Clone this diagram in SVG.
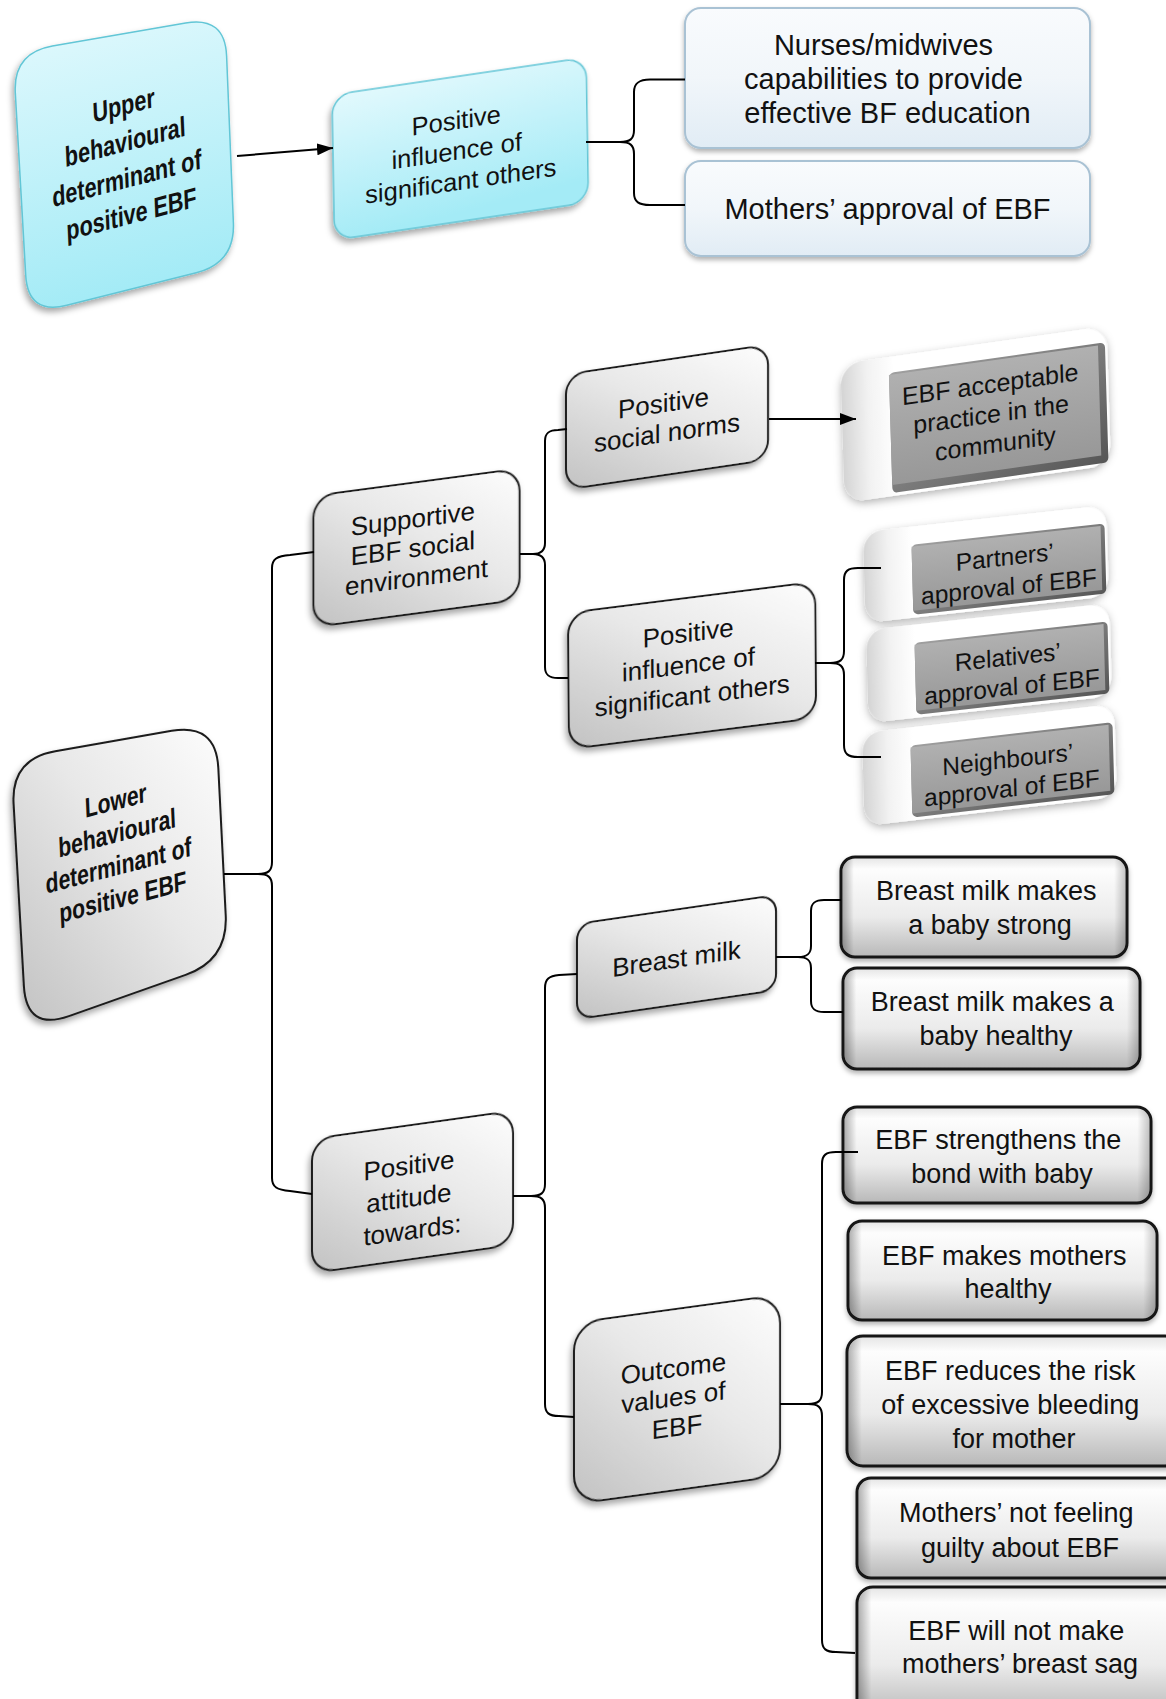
<svg xmlns="http://www.w3.org/2000/svg" width="1166" height="1699" viewBox="0 0 1166 1699">
  <defs>
    <style>
      .t { font-family: "Liberation Sans", Arial, sans-serif; fill: #111; text-anchor: middle; }
      .tb { font-family: "Liberation Sans", Arial, sans-serif; font-weight: bold; fill: #111; text-anchor: middle; }
      .cyan { fill: url(#gCyan); stroke: #62c6d6; stroke-width: 1.5; }
      .gray { fill: url(#gGray); stroke: #1c1c1c; stroke-width: 2; }
      .pale { fill: url(#gPale); stroke: #a9c2d4; stroke-width: 2; }
      .box { fill: url(#gBox); stroke: #151515; stroke-width: 3; }
      .boxside { fill: url(#gBoxSide); stroke: none; }
      .slab { fill: url(#gSlab); }
      .bevel { fill: url(#gBevel); }
      .face { fill: url(#gFace); }
      .wire { fill: none; stroke: #000; stroke-width: 2; }
    </style>
    <linearGradient id="gCyan" x1="0" y1="0" x2="0.2" y2="1">
      <stop offset="0" stop-color="#e2f9fd"/>
      <stop offset="1" stop-color="#a4ebf6"/>
    </linearGradient>
    <linearGradient id="gGray" x1="1" y1="0" x2="0" y2="1">
      <stop offset="0" stop-color="#fdfdfd"/>
      <stop offset="0.45" stop-color="#e8e8e8"/>
      <stop offset="1" stop-color="#c2c2c2"/>
    </linearGradient>
    <linearGradient id="gPale" x1="0" y1="0" x2="0" y2="1">
      <stop offset="0" stop-color="#f9fbfd"/>
      <stop offset="0.5" stop-color="#f1f6fa"/>
      <stop offset="1" stop-color="#e1ecf5"/>
    </linearGradient>
    <linearGradient id="gBox" x1="0" y1="0" x2="0" y2="1">
      <stop offset="0" stop-color="#e4e4e4"/>
      <stop offset="0.12" stop-color="#fdfdfd"/>
      <stop offset="0.6" stop-color="#ebebeb"/>
      <stop offset="1" stop-color="#b8b8b8"/>
    </linearGradient>
    <linearGradient id="gBoxSide" x1="0" y1="0" x2="1" y2="0">
      <stop offset="0" stop-color="#000" stop-opacity="0.3"/>
      <stop offset="0.04" stop-color="#000" stop-opacity="0"/>
      <stop offset="0.96" stop-color="#000" stop-opacity="0"/>
      <stop offset="1" stop-color="#000" stop-opacity="0.22"/>
    </linearGradient>
    <linearGradient id="gSlab" x1="0" y1="0" x2="1" y2="0">
      <stop offset="0" stop-color="#d4d4d4"/>
      <stop offset="0.1" stop-color="#f2f2f2"/>
      <stop offset="0.2" stop-color="#ffffff"/>
      <stop offset="1" stop-color="#ffffff"/>
    </linearGradient>
    <linearGradient id="gBevel" x1="0" y1="0" x2="1" y2="1">
      <stop offset="0" stop-color="#a0a0a0"/>
      <stop offset="1" stop-color="#565656"/>
    </linearGradient>
    <linearGradient id="gFace" x1="0" y1="0" x2="0" y2="1">
      <stop offset="0" stop-color="#b0b0b0"/>
      <stop offset="1" stop-color="#989898"/>
    </linearGradient>
    <filter id="sh" x="-20%" y="-20%" width="140%" height="150%">
      <feDropShadow dx="-2" dy="4" stdDeviation="3" flood-color="#000" flood-opacity="0.35"/>
    </filter>
    <filter id="glow" x="-20%" y="-30%" width="140%" height="160%">
      <feDropShadow dx="0" dy="3" stdDeviation="4" flood-color="#000" flood-opacity="0.3"/>
    </filter>
    <filter id="soft" x="-10%" y="-20%" width="120%" height="150%">
      <feDropShadow dx="0" dy="3" stdDeviation="2.5" flood-color="#000" flood-opacity="0.3"/>
    </filter>
    <marker id="arrow" markerUnits="userSpaceOnUse" viewBox="0 0 16 12" markerWidth="16" markerHeight="12" refX="16" refY="6" orient="auto">
      <path d="M0,0 L16,6 L0,12 Z" fill="#000"/>
    </marker>
  </defs>

  <!-- upper level -->
  <g id="upper-determinant">
    <path class="cyan" filter="url(#sh)" d="M52.4,46.1 L185.6,22.9 Q225,16 226.6,56 L233.4,223 Q235,263 196.2,272.8 L66.8,305.2 Q28,315 25.7,275.1 L15.3,92.9 Q13,53 52.4,46.1 Z"/>
    <text class="tb" font-size="21.5" transform="matrix(1,-0.26,0.058,1.3,127,114)">
      <tspan x="0" y="0">Upper</tspan>
      <tspan x="0" y="28.1">behavioural</tspan>
      <tspan x="0" y="56.2">determinant of</tspan>
      <tspan x="0" y="84.3">positive EBF</tspan>
    </text>
  </g>

  <g id="upper-influence" transform="matrix(1,-0.148,0.017,1,332,95)">
    <rect class="cyan" filter="url(#sh)" width="254" height="145" rx="20"/>
    <text class="t" font-size="25.5">
      <tspan x="127" y="52.5">Positive</tspan>
      <tspan x="127" y="83">influence of</tspan>
      <tspan x="127" y="113.5">significant others</tspan>
    </text>
  </g>

  <g id="nurses-capabilities">
    <rect class="pale" filter="url(#soft)" x="685" y="8" width="405" height="140" rx="16"/>
    <text class="t" font-size="29">
      <tspan x="887.5" y="55">Nurses/midwives</tspan>
      <tspan x="887.5" y="89">capabilities to provide</tspan>
      <tspan x="887.5" y="123">effective BF education</tspan>
    </text>
  </g>

  <g id="mothers-approval">
    <rect class="pale" filter="url(#soft)" x="685" y="161" width="405" height="95" rx="16"/>
    <text class="t" font-size="29" x="887.5" y="218.5">Mothers’ approval of EBF</text>
  </g>

  <!-- lower level -->
  <g id="lower-determinant">
    <path class="gray" filter="url(#sh)" d="M55.3,751.2 L171.7,730.8 Q216,723 218.3,767.9 L225.7,915.1 Q228,960 185.6,974.9 L68.9,1016.1 Q26.5,1031 23.9,986.1 L13.6,803.9 Q11,759 55.3,751.2 Z"/>
    <text class="tb" font-size="21" transform="matrix(1,-0.26,0.058,1.3,119,809)">
      <tspan x="0" y="0">Lower</tspan>
      <tspan x="0" y="25">behavioural</tspan>
      <tspan x="0" y="50">determinant of</tspan>
      <tspan x="0" y="75">positive EBF</tspan>
    </text>
  </g>

  <g id="supportive-environment" transform="matrix(1,-0.133,0,1,313.5,496)">
    <rect class="gray" filter="url(#sh)" width="206" height="131" rx="22"/>
    <text class="t" font-size="26">
      <tspan x="103" y="45">Supportive</tspan>
      <tspan x="103" y="74.5">EBF social</tspan>
      <tspan x="103" y="104">environment</tspan>
    </text>
  </g>

  <g id="social-norms" transform="matrix(1,-0.147,0,1,566,374.5)">
    <rect class="gray" filter="url(#sh)" width="202" height="115" rx="20"/>
    <text class="t" font-size="26">
      <tspan x="101" y="52">Positive</tspan>
      <tspan x="101" y="82">social norms</tspan>
    </text>
  </g>

  <g id="lower-influence" transform="matrix(1,-0.126,0.008,1,568,613)">
    <rect class="gray" filter="url(#sh)" width="247" height="136" rx="22"/>
    <text class="t" font-size="26">
      <tspan x="123.5" y="44">Positive</tspan>
      <tspan x="123.5" y="75.5">influence of</tspan>
      <tspan x="123.5" y="107">significant others</tspan>
    </text>
  </g>

  <g id="acceptable-practice" transform="matrix(1,-0.142,0.03,1,840.4,363.9)">
    <rect class="slab" filter="url(#glow)" width="266" height="139" rx="22"/>
    <rect class="bevel" x="48" y="16" width="216" height="120" rx="5"/>
    <rect class="face" x="48" y="18" width="209" height="110"/>
    <text class="t" font-size="25">
      <tspan x="152" y="50">EBF acceptable</tspan>
      <tspan x="152" y="80">practice in the</tspan>
      <tspan x="152" y="110">community</tspan>
    </text>
  </g>

  <g id="partners-approval" transform="matrix(1,-0.11,0.027,1,863,532)">
    <rect class="slab" filter="url(#glow)" width="243" height="91" rx="20"/>
    <rect class="bevel" x="48" y="18" width="193" height="70" rx="5"/>
    <rect class="face" x="48" y="20" width="189" height="64"/>
    <text class="t" font-size="24.5">
      <tspan x="144" y="49">Partners’</tspan>
      <tspan x="144" y="79">approval of EBF</tspan>
    </text>
  </g>

  <g id="relatives-approval" transform="matrix(1,-0.11,0.027,1,866,630)">
    <rect class="slab" filter="url(#glow)" width="243" height="93" rx="20"/>
    <rect class="bevel" x="48" y="18" width="193" height="72" rx="5"/>
    <rect class="face" x="48" y="20" width="189" height="66"/>
    <text class="t" font-size="24.5">
      <tspan x="144" y="51">Relatives’</tspan>
      <tspan x="144" y="81">approval of EBF</tspan>
    </text>
  </g>

  <g id="neighbours-approval" transform="matrix(1,-0.115,0.027,1,862,733)">
    <rect class="slab" filter="url(#glow)" width="252" height="93" rx="20"/>
    <rect class="bevel" x="48" y="18" width="202" height="72" rx="5"/>
    <rect class="face" x="48" y="20" width="198" height="66"/>
    <text class="t" font-size="24.5">
      <tspan x="148" y="51.5">Neighbours’</tspan>
      <tspan x="148" y="80.5">approval of EBF</tspan>
    </text>
  </g>

  <g id="attitude" transform="matrix(1,-0.14,0,1,312,1139)">
    <rect class="gray" filter="url(#sh)" width="201" height="134" rx="22"/>
    <text class="t" font-size="26">
      <tspan x="100.5" y="49">Positive</tspan>
      <tspan x="100.5" y="81.5">attitude</tspan>
      <tspan x="100.5" y="114">towards:</tspan>
    </text>
  </g>

  <g id="breast-milk" transform="matrix(1,-0.145,0,1,577,924)">
    <rect class="gray" filter="url(#sh)" width="199" height="95" rx="16"/>
    <text class="t" font-size="26" x="99.5" y="58">Breast milk</text>
  </g>

  <g id="outcome-values" transform="matrix(1,-0.137,0,1,574,1323)">
    <rect class="gray" filter="url(#sh)" width="206" height="181" rx="28"/>
    <text class="t" font-size="26">
      <tspan x="103" y="68">Outcome</tspan>
      <tspan x="103" y="97">values of</tspan>
      <tspan x="103" y="127">EBF</tspan>
    </text>
  </g>

  <g id="milk-strong">
    <rect class="box" filter="url(#soft)" x="841" y="857" width="286" height="100" rx="14"/>
    <rect class="boxside" x="842.5" y="858.5" width="283" height="97" rx="13"/>
    <text class="t" font-size="27">
      <tspan x="990" y="900">Breast milk makes</tspan>
      <tspan x="990" y="934">a baby strong</tspan>
    </text>
  </g>

  <g id="milk-healthy">
    <rect class="box" filter="url(#soft)" x="843" y="968" width="297" height="101" rx="14"/>
    <rect class="boxside" x="844.5" y="969.5" width="294" height="98" rx="13"/>
    <text class="t" font-size="27">
      <tspan x="996" y="1011">Breast milk makes a</tspan>
      <tspan x="996" y="1045">baby healthy</tspan>
    </text>
  </g>

  <g id="bond-with-baby">
    <rect class="box" filter="url(#soft)" x="843" y="1107" width="308" height="96" rx="14"/>
    <rect class="boxside" x="844.5" y="1108.5" width="305" height="93" rx="13"/>
    <text class="t" font-size="27">
      <tspan x="1002" y="1149">EBF strengthens the</tspan>
      <tspan x="1002" y="1183">bond with baby</tspan>
    </text>
  </g>

  <g id="mothers-healthy">
    <rect class="box" filter="url(#soft)" x="848" y="1221" width="309" height="99" rx="14"/>
    <rect class="boxside" x="849.5" y="1222.5" width="306" height="96" rx="13"/>
    <text class="t" font-size="27">
      <tspan x="1008" y="1265">EBF makes mothers</tspan>
      <tspan x="1008" y="1298">healthy</tspan>
    </text>
  </g>

  <g id="bleeding-risk">
    <rect class="box" filter="url(#soft)" x="847" y="1336" width="334" height="130" rx="16"/>
    <rect class="boxside" x="848.5" y="1337.5" width="331" height="127" rx="15"/>
    <text class="t" font-size="27">
      <tspan x="1014" y="1379.5">EBF reduces the risk</tspan>
      <tspan x="1014" y="1413.5">of excessive bleeding</tspan>
      <tspan x="1014" y="1447.5">for mother</tspan>
    </text>
  </g>

  <g id="not-guilty">
    <rect class="box" filter="url(#soft)" x="857" y="1478" width="326" height="100" rx="14"/>
    <rect class="boxside" x="858.5" y="1479.5" width="323" height="97" rx="13"/>
    <text class="t" font-size="27">
      <tspan x="1020" y="1522">Mothers’ not feeling</tspan>
      <tspan x="1020" y="1557">guilty about EBF</tspan>
    </text>
  </g>

  <g id="no-sag">
    <rect class="box" filter="url(#soft)" x="857" y="1587" width="326" height="130" rx="16"/>
    <rect class="boxside" x="858.5" y="1588.5" width="323" height="127" rx="15"/>
    <text class="t" font-size="27">
      <tspan x="1020" y="1640">EBF will not make</tspan>
      <tspan x="1020" y="1673">mothers’ breast sag</tspan>
    </text>
  </g>

  <!-- connectors: arrows and brackets -->
  <g id="connectors">
    <line class="wire" x1="237" y1="156" x2="333" y2="148" marker-end="url(#arrow)"/>
    <line class="wire" x1="769" y1="419" x2="856" y2="419" marker-end="url(#arrow)"/>

    <path class="wire" d="M586,142 L620,142 C630,142 634,139 634,130 L634,92 C634,83 639,79.5 650,79.5 L685,79.5 M620,142 C630,142 634,145 634,154 L634,193 C634,202 639,205 650,205 L685,205"/>

    <path class="wire" d="M224,874 L258,874 C268,874 272,871 272,862 L272,568 C272,559 277,556 290,555 L314,552 M258,874 C268,874 272,877 272,886 L272,1178 C272,1187 277,1190 290,1191 L312,1194"/>

    <path class="wire" d="M520,554 L533,554 C541,554 545,551 545,543 L545,441 C545,433 549,430 558,430 L567,429 M533,554 C541,554 545,557 545,565 L545,667 C545,675 549,678 558,678 L568,678"/>

    <path class="wire" d="M815,663 L830,663 C840,663 844,660 844,651 L844,580 C844,571 848,568 858,568 L881,568 M830,663 C840,663 844,666 844,675 L844,745 C844,754 848,757 858,757 L881,757"/>

    <path class="wire" d="M513,1196 L531,1196 C541,1196 545,1193 545,1184 L545,988 C545,979 549,976 559,975 L577,974 M531,1196 C541,1196 545,1199 545,1208 L545,1404 C545,1413 549,1416 559,1416 L574,1417"/>

    <path class="wire" d="M776,957 L798,957 C807,957 811,954 811,946 L811,911 C811,903 815,900 824,900 L841,900 M798,957 C807,957 811,960 811,968 L811,1001 C811,1009 815,1012 824,1012 L843,1012"/>

    <path class="wire" d="M780,1404 L808,1404 C818,1404 822,1401 822,1392 L822,1164 C822,1155 826,1152 836,1152 L858,1152 M808,1404 C818,1404 822,1407 822,1416 L822,1640 C822,1649 826,1652 836,1652 L855,1653"/>
  </g>
</svg>
